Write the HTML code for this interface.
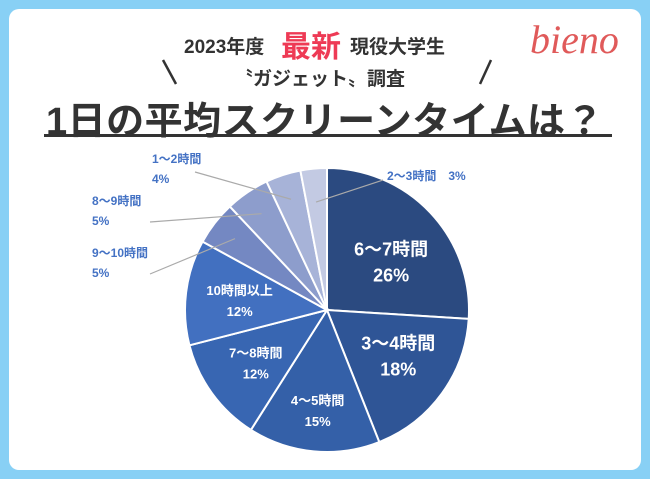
<!DOCTYPE html>
<html><head><meta charset="utf-8">
<style>
body{margin:0;width:650px;height:479px;background:#88d0f5;overflow:hidden;font-family:"Liberation Sans","Noto Sans CJK JP",sans-serif}
#card{position:absolute;left:9px;top:9px;width:632px;height:461px;background:#fff;border-radius:10px}
.t{position:absolute;white-space:nowrap;color:#333;font-weight:bold}
</style></head><body>
<div id="card"></div>
<div class="t" style="left:184px;top:32px;font-size:19px">2023年度</div>
<div class="t" style="left:281px;top:22px;font-size:30px;color:#ee3a55">最新</div>
<div class="t" style="left:350px;top:32px;font-size:19px">現役大学生</div>
<div class="t" style="left:234px;top:64px;font-size:19px">〝ガジェット〟調査</div>
<svg width="650" height="100" style="position:absolute;left:0;top:0">
<line x1="163" y1="60" x2="176" y2="84" stroke="#333" stroke-width="2.5"/>
<line x1="491" y1="60" x2="480" y2="84" stroke="#333" stroke-width="2.5"/>
</svg>
<div class="t" style="left:530px;top:16px;font-size:40px;font-weight:normal;font-style:italic;color:#e05a5a;font-family:'Liberation Serif',serif">bieno</div>
<div class="t" style="left:46px;top:90px;font-size:38px;color:#333;letter-spacing:0.5px">1日の平均スクリーンタイムは？</div>
<div style="position:absolute;left:44px;top:134px;width:568px;height:3px;background:#333"></div>
<svg id="pie" width="650" height="479" style="position:absolute;left:0;top:0"></svg>
<script>
const categories=["6～7時間","3～4時間","4～5時間","7～8時間","10時間以上","9～10時間","8～9時間","1～2時間","2～3時間"];
const values=[26,18,15,12,12,5,5,4,3];
const colors=["#2b4a80","#2f5596","#3460a8","#3866b2","#4270c0","#7488c2","#8d9dcc","#a7b3d8","#c3cae3"];
const svg=document.getElementById('pie');
const NS="http://www.w3.org/2000/svg";
const cx=327,cy=310,r=142;
const total=values.reduce((a,b)=>a+b,0);
function pt(a,rr){return [cx+rr*Math.sin(a),cy-rr*Math.cos(a)];}
let acc=0;
const yshift={0:10,1:-8,2:0,3:0,4:0};
const outside={5:[92,257,150,274],6:[92,205,150,222],7:[152,163,195,172]};
values.forEach((v,i)=>{
  const a0=acc/total*2*Math.PI;acc+=v;const a1=acc/total*2*Math.PI;
  const p0=pt(a0,r),p1=pt(a1,r);
  const path=document.createElementNS(NS,'path');
  path.setAttribute('d',`M${cx},${cy}L${p0[0]},${p0[1]}A${r},${r} 0 ${a1-a0>Math.PI?1:0} 1 ${p1[0]},${p1[1]}Z`);
  path.setAttribute('fill',colors[i]);path.setAttribute('stroke','#fff');path.setAttribute('stroke-width','2');
  
  
  svg.appendChild(path);
  const am=(a0+a1)/2;
  if(i<5){
    const big=i<2;const pm=pt(am,r*(i==2?0.7:0.62));
    const fs=big?18:13;
    [categories[i],v+"%"].forEach((s,k)=>{
      const t=document.createElementNS(NS,'text');
      t.setAttribute('x',pm[0]);t.setAttribute('y',pm[1]+yshift[i]+(k==0?-4:fs+4));
      t.setAttribute('text-anchor','middle');t.setAttribute('fill','#fff');t.setAttribute('font-weight','bold');
      t.setAttribute('font-size',fs);t.textContent=s;
      
      
      svg.appendChild(t);
    });
  } else {
    const pe=pt(am,r*0.82);
    const ln=document.createElementNS(NS,'polyline');
    if(i==8) ln.setAttribute('points',`${pe[0]},${pe[1]+8} 383,180`);
    else ln.setAttribute('points',`${outside[i][2]},${outside[i][3]} ${pe[0]},${pe[1]}`);
    ln.setAttribute('fill','none');ln.setAttribute('stroke','#aaa');ln.setAttribute('stroke-width','1.2');
    
    
    svg.appendChild(ln);
    const lines=i==8?[categories[i]+"　"+v+"%"]:[categories[i],v+"%"];
    lines.forEach((s,k)=>{
      const t=document.createElementNS(NS,'text');
      if(i==8){t.setAttribute('x',387);t.setAttribute('y',180);}
      else{t.setAttribute('x',outside[i][0]);t.setAttribute('y',outside[i][1]+(k?20:0));}
      t.setAttribute('fill','#4472c4');t.setAttribute('font-size','12');t.setAttribute('font-weight','bold');
      t.textContent=s;
      
      
      svg.appendChild(t);
    });
  }
});
</script>
</body></html>
